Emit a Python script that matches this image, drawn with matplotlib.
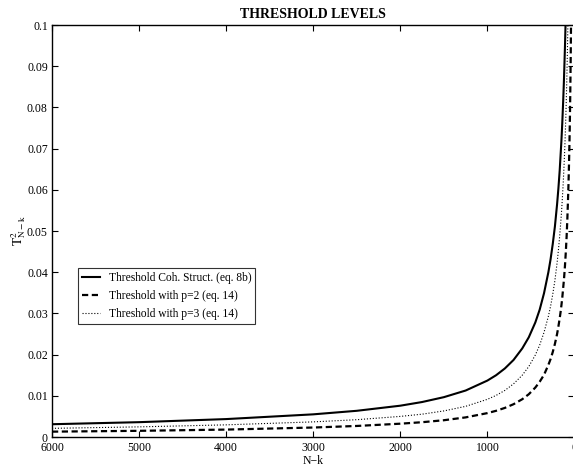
import matplotlib
matplotlib.use("Agg")
import matplotlib.pyplot as plt

plt.rcParams['font.family'] = ['Liberation Serif', 'DejaVu Serif']
plt.rcParams['mathtext.fontset'] = 'stix'

# values (N-k, threshold), hand-smoothed
nk_coh = [6000, 5000, 4000, 3000, 2500, 2000, 1750, 1500, 1250, 1000, 900, 800, 700,
          600, 525, 450, 400, 350, 300, 275, 250, 225, 200, 185, 170, 150, 140, 130,
          122, 115, 109, 103]
thr_coh = [0.0031, 0.0036, 0.00435, 0.0055, 0.00636, 0.0076, 0.00849, 0.00967, 0.01128,
           0.0137, 0.015, 0.01663, 0.0187, 0.0215, 0.0242, 0.0278, 0.0309, 0.0349, 0.040,
           0.0431, 0.0468, 0.0511, 0.0565, 0.0603, 0.0647, 0.072, 0.0764, 0.0815, 0.0861,
           0.0909, 0.0951, 0.1]

nk_p2 = [6000, 5000, 4000, 3000, 2500, 2000, 1750, 1500, 1250, 1000, 900, 800, 700,
         600, 525, 450, 400, 350, 300, 275, 250, 225, 200, 185, 170, 160, 150, 140, 130,
         120, 110, 100, 90, 82, 75, 70, 65, 60, 55, 51, 48, 44, 40]
thr_p2 = [0.0013, 0.0015, 0.0018, 0.0023, 0.00268, 0.00323, 0.00359, 0.00407, 0.00476,
          0.0058, 0.00636, 0.00706, 0.00796, 0.00917, 0.01038, 0.012, 0.0134, 0.0151,
          0.0175, 0.0189, 0.0206, 0.0226, 0.025, 0.0268, 0.0288, 0.0303, 0.032, 0.0339,
          0.0362, 0.0385, 0.0414, 0.0448, 0.0489, 0.053, 0.0573, 0.0607, 0.0646, 0.0692,
          0.0745, 0.0798, 0.0844, 0.0914, 0.1]

nk_p3 = [6000, 5000, 4000, 3000, 2500, 2000, 1750, 1500, 1250, 1000, 900, 800, 700,
         600, 525, 450, 400, 350, 300, 275, 250, 225, 200, 185, 170, 150, 140, 130, 122,
         115, 108, 100, 95, 90, 83, 76]
thr_p3 = [0.0021, 0.00246, 0.00295, 0.00367, 0.0042, 0.0050, 0.00554, 0.00633, 0.00744,
          0.00915, 0.0101, 0.0113, 0.0129, 0.015, 0.0171, 0.0199, 0.0223, 0.0254, 0.0293,
          0.0317, 0.0346, 0.038, 0.04225, 0.0453, 0.0488, 0.0543, 0.0577, 0.0615, 0.065,
          0.0683, 0.0722, 0.0775, 0.0812, 0.0853, 0.092, 0.1]

x_ticks = [6000, 5000, 4000, 3000, 2000, 1000, 0]
y_ticks = [0, 0.01, 0.02, 0.03, 0.04, 0.05, 0.06, 0.07, 0.08, 0.09, 0.1]
y_labels = ['0', '0.01', '0.02', '0.03', '0.04', '0.05', '0.06', '0.07', '0.08', '0.09', '0.1']

fig = plt.figure(figsize=(5.73, 4.68), dpi=100)
ax = fig.add_axes([52 / 573, 31 / 468, 522.5 / 573, 412 / 468])

ax.plot(nk_coh, thr_coh, color='black', lw=1.5, label='Threshold Coh. Struct. (eq. 8b)')
ax.plot(nk_p2, thr_p2, color='black', lw=1.6, dashes=(2.8, 1.6), label='Threshold with p=2 (eq. 14)')
ax.plot(nk_p3, thr_p3, color='black', lw=0.8, ls=':', label='Threshold with p=3 (eq. 14)')

ax.set_xlim(6000, 0)
ax.set_ylim(0, 0.1)
ax.set_xticks(x_ticks)
ax.set_xticklabels([str(v) for v in x_ticks])
ax.set_yticks(y_ticks)
ax.set_yticklabels(y_labels)
ax.tick_params(direction='in', top=True, right=True, length=4, width=0.8, labelsize=8.5)
ax.tick_params(axis='x', pad=3.5)
ax.tick_params(axis='y', pad=3)
for s in ax.spines.values():
    s.set_linewidth(1.0)

ax.set_title('THRESHOLD LEVELS', fontsize=10, fontweight='bold', pad=5)
ax.set_xlabel('N\u2212k', fontsize=8.5, labelpad=1)
ax.set_ylabel(r'$\mathrm{T^2_{N-k}}$', fontsize=9.5, labelpad=-1)

leg = ax.legend(loc='upper left', bbox_to_anchor=(0.0498, 0.41), fontsize=8.3,
                handlelength=1.6, frameon=True, fancybox=False, borderpad=0.35,
                labelspacing=0.5, handletextpad=0.7, borderaxespad=0)
leg.get_frame().set_edgecolor('black')
leg.get_frame().set_linewidth(0.8)

fig.savefig('out.png', dpi=100)
